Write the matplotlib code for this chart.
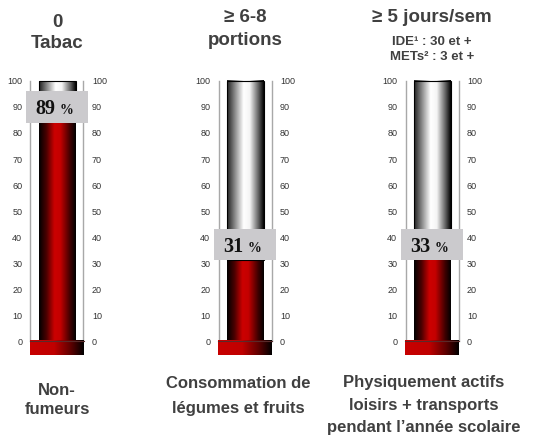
import numpy as np
import matplotlib
matplotlib.use("Agg")
import matplotlib.pyplot as plt
from matplotlib.colors import LinearSegmentedColormap
from matplotlib.patches import Rectangle

plt.rcParams['font.family'] = ['Liberation Sans', 'DejaVu Sans']

# Données
valeurs = [89, 31, 33]
titres = [["0", "Tabac"], ["≥ 6-8", "portions"], ["≥ 5 jours/sem"]]
sous_titres = [[], [], ["IDE¹ : 30 et +", "METs² : 3 et +"]]
legendes = [["Non-", "fumeurs"],
            ["Consommation de", "légumes et fruits"],
            ["Physiquement actifs", "loisirs + transports", "pendant l’année scolaire"]]
graduations = list(range(0, 101, 10))

# Mise en page (pixels)
W, H = 533, 436
centres = [57, 245, 432]
centres_legende = [57, 238, 424]
y_box = [90, 37, 37]
base_titres = [[27, 48], [22, 45], [22]]
base_sous = [[], [], [45, 60]]
base_legendes = [[395, 414], [388, 413], [387, 410, 432]]

GRIS_TXT = "#404040"

cm_rouge = LinearSegmentedColormap.from_list(
    "rouge", [(0, "#000000"), (0.2, "#4a0000"), (0.42, "#cc0000"),
              (0.58, "#c40000"), (0.84, "#400000"), (1, "#000000")])
cm_vide = LinearSegmentedColormap.from_list(
    "vide", [(0, "#202020"), (0.15, "#6a6a6a"), (0.45, "#ffffff"),
             (0.62, "#f4f4f4"), (0.88, "#505050"), (1, "#000000")])
cm_base = LinearSegmentedColormap.from_list(
    "base", [(0, "#c80000"), (0.45, "#c00000"), (0.75, "#600000"),
             (1, "#000000")])
grad = np.linspace(0, 1, 256).reshape(1, -1)

fig = plt.figure(figsize=(W / 100, H / 100), dpi=100)

y0_px, px_unite = 341, 2.6
ymin, ymax = -10, 105
bas = (H - (y0_px - ymin * px_unite)) / H
haut = (ymax - ymin) * px_unite / H

for i, v in enumerate(valeurs):
    c = centres[i]
    ax = fig.add_axes([(c - 45) / W, bas, 90 / W, haut])
    ax.set_xlim(-45, 45)
    ax.set_ylim(ymin, ymax)

    # tube vide puis colonne rouge
    ax.imshow(grad, cmap=cm_vide, extent=(-18.5, 18.5, v, 100),
              aspect="auto", interpolation="bilinear", zorder=2)
    ax.imshow(grad, cmap=cm_rouge, extent=(-18.5, 18.5, 0, v),
              aspect="auto", interpolation="bilinear", zorder=2)
    ax.add_patch(Rectangle((-18.5, v), 37, 100 - v, fill=False,
                           edgecolor="black", lw=0.8, zorder=3))
    # socle
    ax.imshow(grad, cmap=cm_base, extent=(-27, 27, -5.4, 0),
              aspect="auto", interpolation="bilinear", zorder=3)
    ax.plot([-27, 27], [0, 0], color="#5a2a2a", lw=0.8, zorder=4)

    # étiquette de valeur
    ax.add_patch(Rectangle((-31, y_box[i] - 6), 62, 12,
                           facecolor="#cbcacd", edgecolor="none", zorder=5))
    ax.text(-1.5, y_box[i] - 2.8, f"{v}", ha="right", va="baseline",
            family="Liberation Serif", fontweight="bold", fontsize=14.5,
            color="#111111", zorder=6)
    ax.text(3, y_box[i] - 2.8, "%", ha="left", va="baseline",
            family="Liberation Serif", fontweight="bold", fontsize=10,
            color="#111111", zorder=6)

    # axes gradués
    for s in ["top", "bottom"]:
        ax.spines[s].set_visible(False)
    ax.spines["left"].set_position(("data", -26.5))
    ax.spines["right"].set_position(("data", 26.5))
    for s in ["left", "right"]:
        ax.spines[s].set_bounds(0, 100)
        ax.spines[s].set_color("#a8a8a8")
        ax.spines[s].set_linewidth(1.0)
    ax.set_xticks([])
    ax.set_yticks(graduations)
    ax.tick_params(axis="y", length=0, pad=6, labelsize=6.5,
                   labelcolor="#333333", left=True, right=True,
                   labelleft=True, labelright=True)
    ax.patch.set_alpha(0)

    # titres
    for txt, yb in zip(titres[i], base_titres[i]):
        fig.text(c / W, 1 - yb / H, txt, ha="center", va="baseline",
                 fontsize=13.5, fontweight="bold", color=GRIS_TXT)
    for txt, yb in zip(sous_titres[i], base_sous[i]):
        fig.text(c / W, 1 - yb / H, txt, ha="center", va="baseline",
                 fontsize=9.5, fontweight="bold", color=GRIS_TXT)
    for txt, yb in zip(legendes[i], base_legendes[i]):
        fig.text(centres_legende[i] / W, 1 - yb / H, txt, ha="center",
                 va="baseline", fontsize=12, fontweight="bold", color=GRIS_TXT)

fig.savefig("out.png", dpi=100)
